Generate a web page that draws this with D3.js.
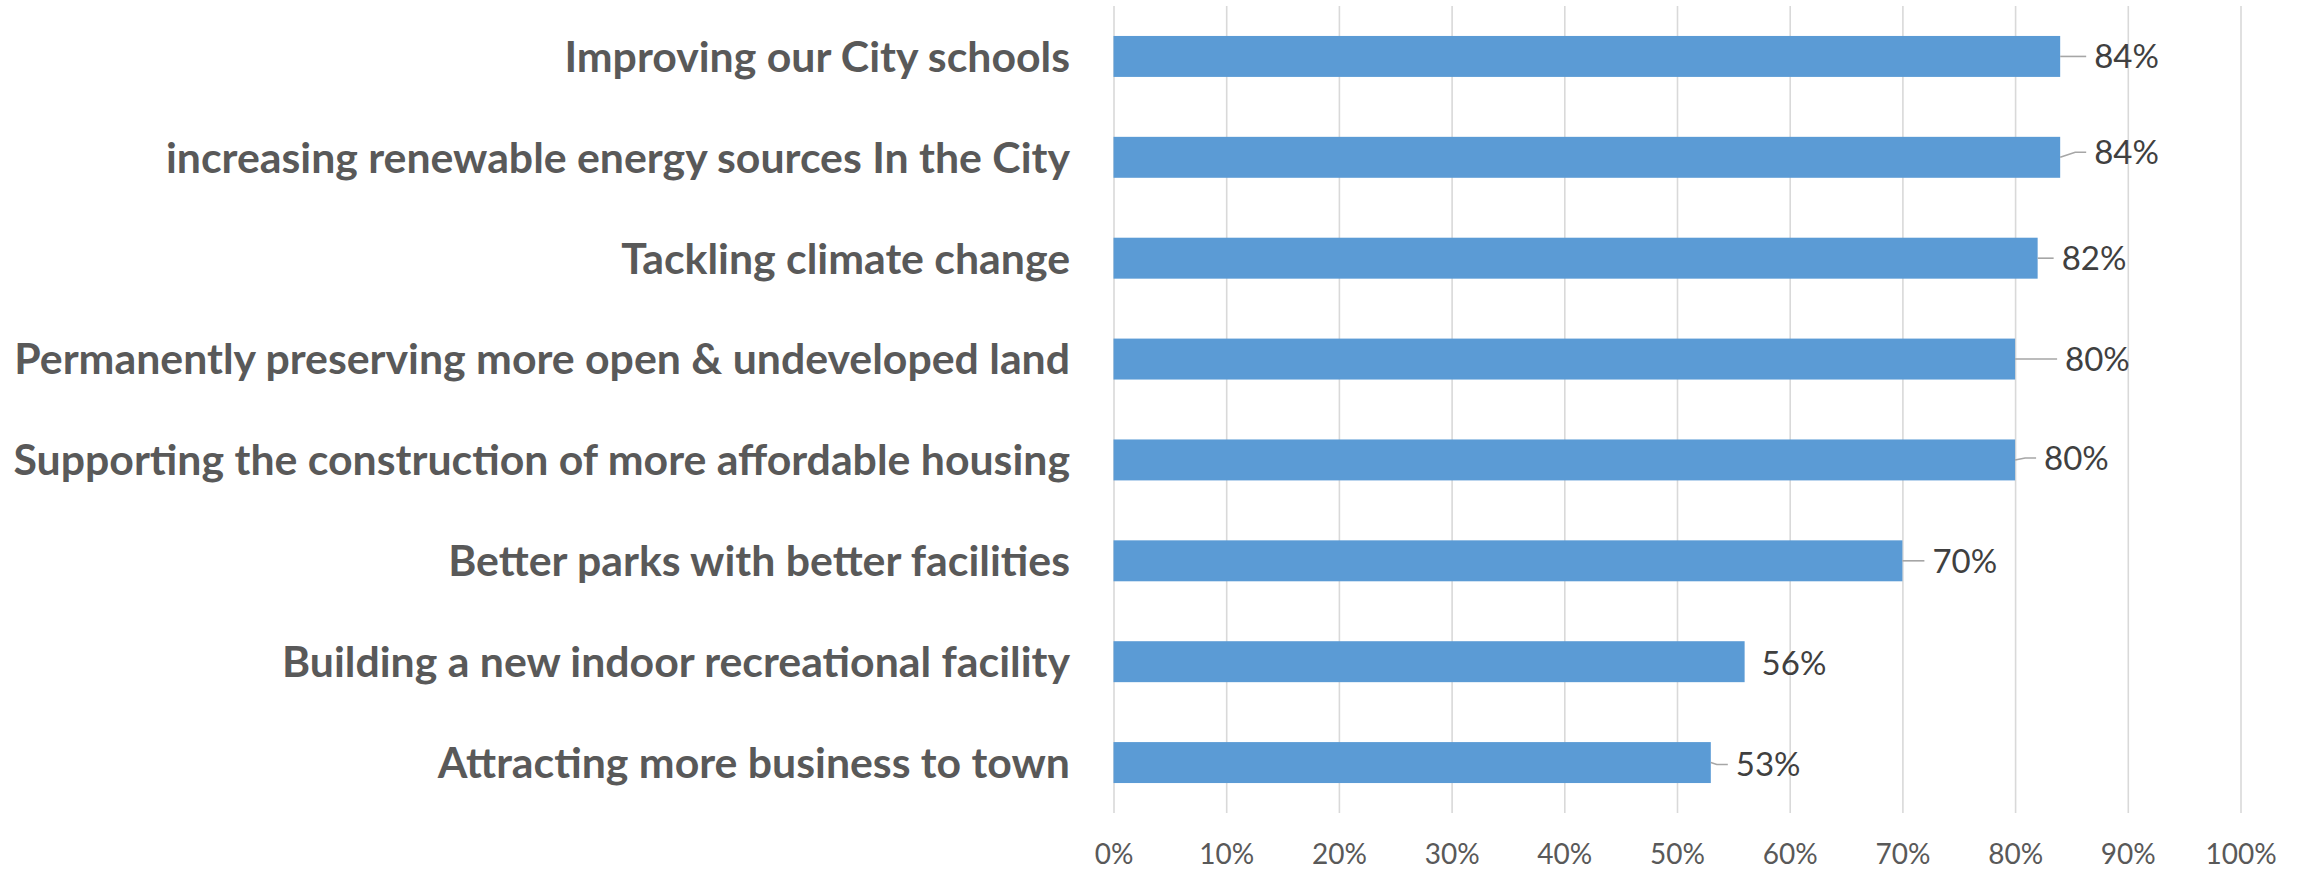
<!DOCTYPE html>
<html>
<head>
<meta charset="utf-8">
<script src="https://cdn.jsdelivr.net/npm/d3@7"></script>
<style>
  html, body { margin: 0; padding: 0; background: #ffffff; }
  svg { display: block; }
</style>
</head>
<body>
<svg id="chart" width="2303" height="869"></svg>
<script>
// ---- data ----
const categories = [
  "Improving our City schools",
  "increasing renewable energy sources In the City",
  "Tackling climate change",
  "Permanently preserving more open & undeveloped land",
  "Supporting the construction of more affordable housing",
  "Better parks with better facilities",
  "Building a new indoor recreational facility",
  "Attracting more business to town"
];
const values = [0.84, 0.84, 0.82, 0.80, 0.80, 0.70, 0.56, 0.53];
const tickValues = [0, 0.1, 0.2, 0.3, 0.4, 0.5, 0.6, 0.7, 0.8, 0.9, 1.0];

// ---- layout config (label placement, px) ----
const labelDx = [34, 34, 24, 50, 29, 30, 17, 25];
const labelDy = [0, -5, 0, 0, -2, 0, 1.5, 2];

const svg = d3.select("#chart");
const plotLeft = 1113.5, plotRight = 2240.5, plotTop = 6, plotBottom = 813;

const x = d3.scaleLinear().domain([0, 1]).range([plotLeft, plotRight]);
const y = d3.scaleBand().domain(categories).range([plotTop, plotBottom])
  .paddingInner(0.594).paddingOuter(0.297);

// gridlines
const grid = svg.append("g").attr("transform", `translate(0,${plotBottom})`)
  .call(d3.axisBottom(x).tickValues(tickValues).tickSize(-(plotBottom - plotTop)).tickFormat(""));
grid.select(".domain").remove();
grid.selectAll("line").attr("stroke", "#d9d9d9").attr("stroke-width", 1.6);

// tick labels
const axis = svg.append("g").attr("transform", `translate(0,${plotBottom})`)
  .call(d3.axisBottom(x).tickValues(tickValues).tickSize(0).tickFormat(d3.format(".0%")));
axis.select(".domain").remove();
axis.selectAll("text")
  .attr("y", 51).attr("dy", 0)
  .attr("fill", "#595959")
  .style("font-family", "Lato, 'Open Sans', sans-serif")
  .style("font-size", "28px");

// bars
svg.append("g").selectAll("rect").data(values).join("rect")
  .attr("x", x(0))
  .attr("y", (d, i) => y(categories[i]))
  .attr("width", d => x(d) - x(0))
  .attr("height", y.bandwidth())
  .attr("fill", "#5b9bd5");

// category labels
const catG = svg.append("g");
const catText = catG.selectAll("text").data(categories).join("text")
  .attr("x", 1070)
  .attr("y", d => y(d) + y.bandwidth() / 2)
  .attr("dy", "0.36em")
  .attr("text-anchor", "end")
  .attr("fill", "#595959")
  .style("font-family", "Lato, 'Open Sans', sans-serif")
  .style("font-weight", "bold")
  .style("font-size", "40px")
  .text(d => d);
// fit the "Permanently..." label to the reference width
const refLen = catText.filter((d, i) => i === 3).node().getComputedTextLength();
const fs = 40 * 1056 / refLen;
catText.style("font-size", fs + "px");

// value labels + leader lines
const lbl = svg.append("g");
values.forEach((v, i) => {
  const bx = x(v);
  const by = y(categories[i]) + y.bandwidth() / 2;
  const tx = bx + labelDx[i];
  const ty = by + labelDy[i];
  if (labelDx[i] > 20) {
    const endX = tx - 8;
    const bendX = Math.max(bx, endX - 11);
    const pts = labelDy[i] === 0 ? [[bx, by], [endX, ty]] : [[bx, by], [bendX, ty], [endX, ty]];
    lbl.append("path")
      .attr("d", d3.line()(pts))
      .attr("fill", "none")
      .attr("stroke", "#a6a6a6")
      .attr("stroke-width", 1.6);
  }
  lbl.append("text")
    .attr("x", tx)
    .attr("y", ty)
    .attr("dy", "0.36em")
    .attr("fill", "#404040")
    .style("font-family", "Lato, 'Open Sans', sans-serif")
    .style("font-size", "33px")
    .text(d3.format(".0%")(v));
});
</script>
</body>
</html>
